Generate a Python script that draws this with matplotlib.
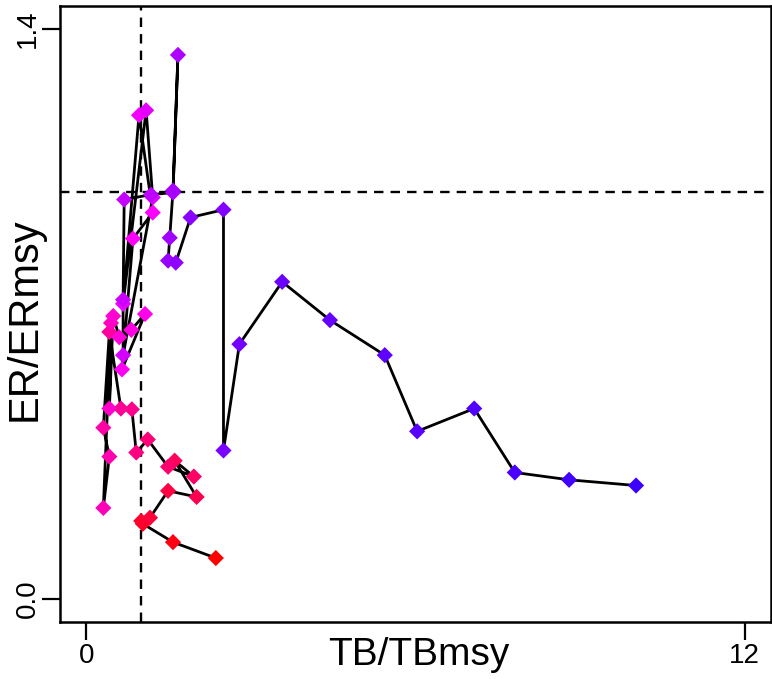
"""
Phase plot of ER/ERmsy against TB/TBmsy, R base-graphics look.
"""
import numpy as np
import matplotlib
matplotlib.use("Agg")
import matplotlib.pyplot as plt
from matplotlib.colors import hsv_to_rgb

plt.rcParams["font.family"] = ["Liberation Sans", "DejaVu Sans"]

# ── Data (in time order) ─────────────────────────────────────────────────────
tb_ratio = [2.36, 1.58, 1.03, 1.00, 1.16, 1.49, 2.01, 1.61, 1.96, 1.49,
            1.12, 0.91, 0.83, 0.63, 0.42, 0.31, 0.42, 0.31, 0.45, 0.42,
            0.49, 0.60, 0.82, 1.07, 0.65, 0.85, 1.21, 0.96, 0.67, 1.09,
            1.21, 0.67, 0.67, 0.69, 1.18, 1.58, 1.67, 1.58, 1.52, 1.49,
            1.63, 1.90, 2.50, 2.50, 2.79, 3.57, 4.44, 5.44, 6.03, 7.07,
            7.81, 8.80, 10.02]
er_ratio = [0.101, 0.140, 0.185, 0.192, 0.200, 0.266, 0.251, 0.340, 0.301, 0.325,
            0.392, 0.360, 0.466, 0.468, 0.656, 0.421, 0.350, 0.224, 0.678, 0.468,
            0.695, 0.643, 0.661, 0.700, 0.564, 0.885, 0.949, 1.188, 0.725, 1.200,
            0.986, 0.599, 0.735, 0.981, 0.993, 0.998, 1.336, 1.003, 0.887, 0.831,
            0.826, 0.937, 0.956, 0.365, 0.626, 0.779, 0.685, 0.599, 0.412, 0.468,
            0.311, 0.293, 0.279]

x_ticks = [0, 12]
y_ticks = [0.0, 1.4]
y_tick_labels = ["0.0", "1.4"]

# ── Colours: red -> pink -> magenta -> purple -> blue over time ──────────────
n = len(tb_ratio)
t = np.linspace(0, 1, n)
hues = 1.0 - 0.295 * t ** 0.8
cols = hsv_to_rgb(np.column_stack([hues % 1.0, np.ones(n), np.ones(n)]))

# ── Plot ─────────────────────────────────────────────────────────────────────
W, H = 772, 679
fig = plt.figure(figsize=(W / 100, H / 100), dpi=100)
ax = fig.add_axes([60 / W, 57 / H, 711 / W, 616 / H])

ax.axvline(1, color="black", linestyle=(0, (4, 3)), linewidth=1.7, zorder=1)
ax.axhline(1, color="black", linestyle=(0, (4, 3)), linewidth=1.7, zorder=1)

ax.plot(tb_ratio, er_ratio, color="black", linewidth=2.0, zorder=2)
ax.scatter(tb_ratio, er_ratio, marker="D", s=68, c=cols, edgecolors="none",
           zorder=3)

ax.set_xlim(-0.48, 12.48)
ax.set_ylim(-0.056, 1.456)

ax.set_xticks(x_ticks)
ax.set_yticks(y_ticks)
ax.set_yticklabels(y_tick_labels, rotation=90, va="center")
ax.tick_params(axis="both", length=13, width=1.6, labelsize=20, color="black")
ax.tick_params(axis="y", pad=1)
ax.tick_params(axis="x", pad=2)

# axis titles placed like R's mtext lines
fig.text(419 / W, 1 - 655 / H, "TB/TBmsy", fontsize=28,
         ha="center", va="center")
fig.text(25 / W, 1 - 319 / H, "ER/ERmsy", fontsize=30, rotation=90,
         ha="center", va="center")

for s in ax.spines.values():
    s.set_linewidth(1.8)

fig.savefig("out.png", dpi=100)
